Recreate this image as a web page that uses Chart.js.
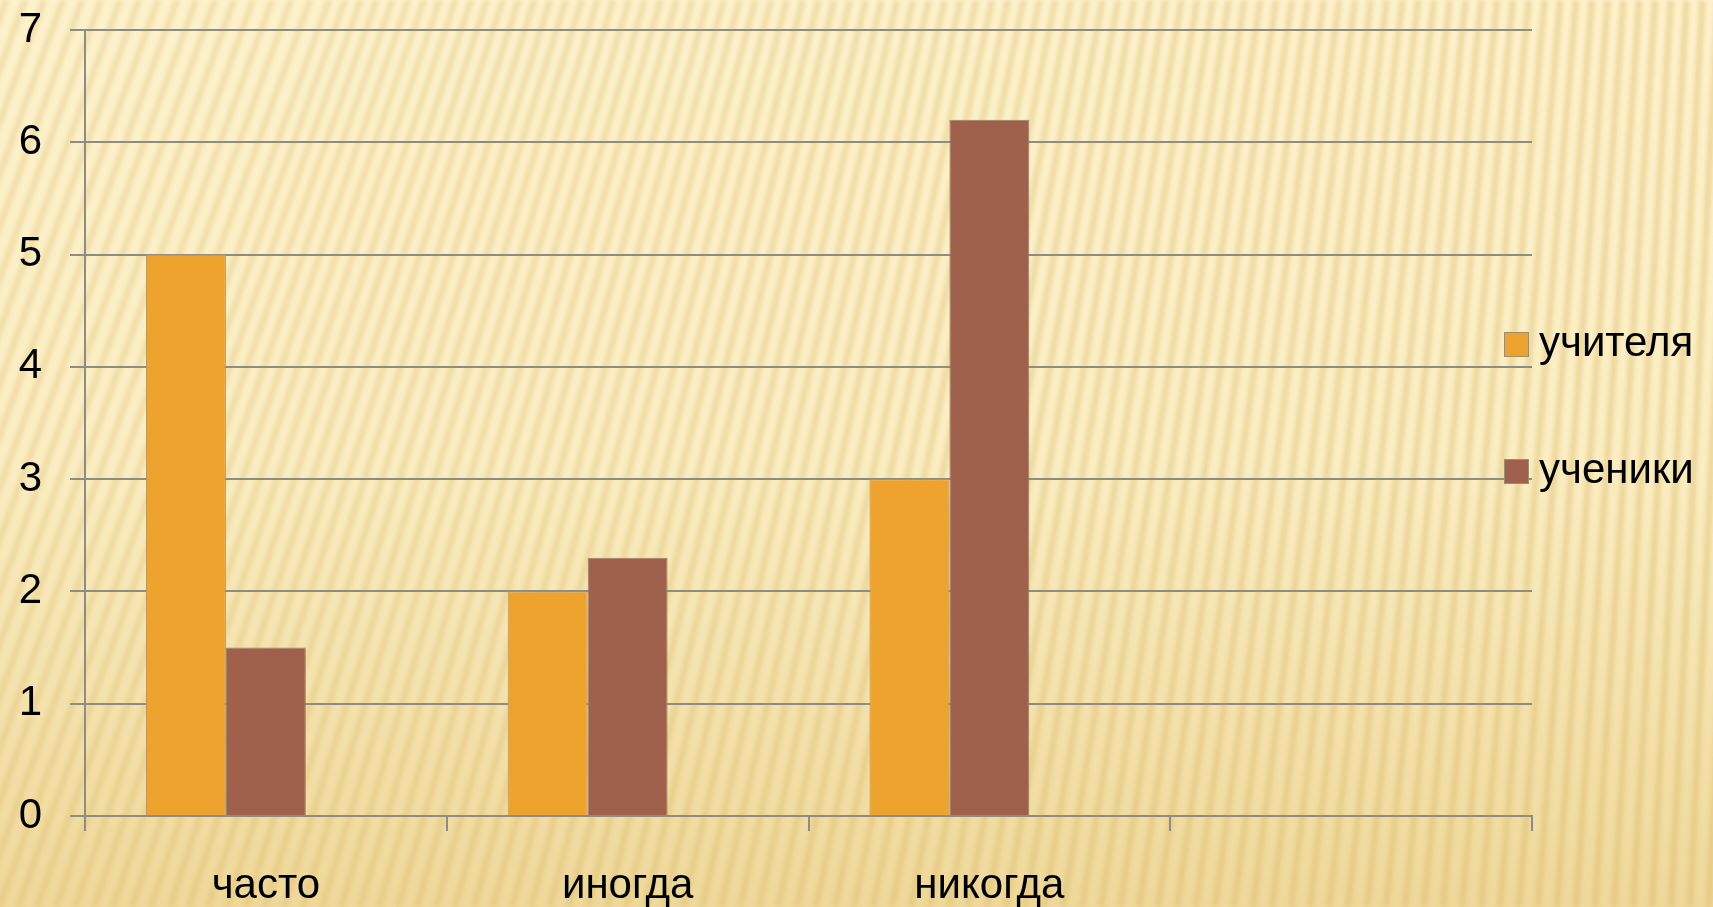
<!DOCTYPE html>
<html>
<head>
<meta charset="utf-8">
<script src="https://cdn.jsdelivr.net/npm/chart.js@4"></script>
<style>
  html, body { margin: 0; padding: 0; background: #fbefc6; }
  #wrap { position: absolute; left: 0; top: 0; width: 1713px; height: 907px; }
</style>
</head>
<body>
<div id="wrap"><canvas id="chart"></canvas></div>
<script>
// chart data
const categories = ['часто', 'иногда', 'никогда', ''];
const teachers = [5, 2, 3, null];
const students = [1.5, 2.3, 6.2, null];
const emptySeries = [null, null, null, null]; // the slide keeps room for a third, empty series
const seriesNames = ['учителя', 'ученики'];
const yTicks = [0, 1, 2, 3, 4, 5, 6, 7];

const gridGray = '#8e8d85';
const fontFamily = '"Liberation Sans", Arial, sans-serif';

// striped beige slide background
const slideBackground = {
    id: 'slideBackground',
    beforeDraw(chart) {
        const ctx = chart.ctx;
        const w = chart.width, h = chart.height;
        ctx.save();
        const base = ctx.createLinearGradient(0, 0, 0, h);
        base.addColorStop(0, '#fdf2cc');
        base.addColorStop(0.5, '#fbeec3');
        base.addColorStop(1, '#efd89a');
        ctx.fillStyle = base;
        ctx.fillRect(0, 0, w, h);

        ctx.filter = 'blur(2px)';
        ctx.lineWidth = 6;
        for (let x0 = -400; x0 < w + 40; x0 += 19) {
            // stripes lean strongly on the left and get almost upright on the right
            const t = Math.min(Math.max(x0 / w, 0), 1);
            const lean = 330 * (1 - t) + 40 * t;
            ctx.strokeStyle = 'rgba(215,180,95,' + (0.3 + 0.12 * t) + ')';
            ctx.beginPath();
            ctx.moveTo(x0, h);
            ctx.lineTo(x0 + lean, 0);
            ctx.stroke();
        }
        ctx.filter = 'none';
        ctx.restore();
    }
};

// legend drawn over the right edge of the plot, like the original
const sideLegend = {
    id: 'sideLegend',
    afterDraw(chart) {
        const ctx = chart.ctx;
        const rows = [344, 471];
        ctx.save();
        chart.data.datasets.slice(0, 2).forEach(function (ds, i) {
            const y = rows[i];
            ctx.fillStyle = ds.backgroundColor;
            ctx.fillRect(1504, y - 12, 25, 25);
            ctx.strokeStyle = '#9b8e70';
            ctx.lineWidth = 1;
            ctx.strokeRect(1504.5, y - 11.5, 24, 24);
            ctx.fillStyle = '#000';
            ctx.font = '42px ' + fontFamily;
            ctx.textBaseline = 'middle';
            ctx.fillText(ds.label, 1539, y);
        });
        ctx.restore();
    }
};

const ctx = document.getElementById('chart').getContext('2d');
const chart = new Chart(ctx, {
    type: 'bar',
    data: {
        labels: categories,
        datasets: [{
            label: seriesNames[0],
            data: teachers,
            backgroundColor: '#eea32f',
            borderColor: '#b8965a',
            borderWidth: 1
        }, {
            label: seriesNames[1],
            data: students,
            backgroundColor: '#a0614c',
            borderColor: '#96806a',
            borderWidth: 1
        }, {
            label: '',
            data: emptySeries,
            backgroundColor: 'rgba(0,0,0,0)'
        }]
    },
    options: {
        responsive: true,
        maintainAspectRatio: false,
        animation: false,
        layout: { padding: { top: 30, right: 181, left: 0, bottom: 0 } },
        datasets: {
            bar: { categoryPercentage: 0.663, barPercentage: 1.0 }
        },
        plugins: {
            legend: { display: false },
            tooltip: { enabled: false }
        },
        scales: {
            x: {
                grid: {
                    display: true,
                    drawOnChartArea: false,
                    offset: true,
                    color: gridGray,
                    lineWidth: 2,
                    tickLength: 15
                },
                border: { color: gridGray, width: 2 },
                ticks: {
                    color: '#000',
                    font: { family: fontFamily, size: 42 },
                    padding: 30,
                    maxRotation: 0
                },
                afterFit(scale) { scale.height = 91; }
            },
            y: {
                min: 0,
                max: 7,
                afterBuildTicks(scale) {
                    scale.ticks = yTicks.map(function (v) { return { value: v }; });
                },
                grid: {
                    color: gridGray,
                    lineWidth: 2,
                    tickLength: 15
                },
                border: { color: gridGray, width: 2 },
                ticks: {
                    color: '#000',
                    font: { family: fontFamily, size: 42 },
                    padding: 28
                },
                afterFit(scale) {
                    scale.width = 85;
                    scale.paddingTop = 0;
                    scale.paddingBottom = 0;
                }
            }
        }
    },
    plugins: [slideBackground, sideLegend]
});
</script>
</body>
</html>
